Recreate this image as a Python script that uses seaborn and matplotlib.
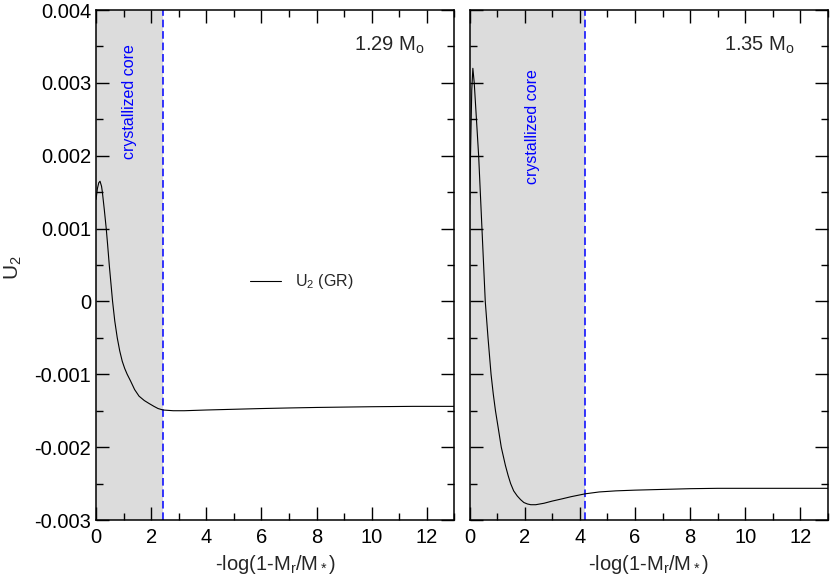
import numpy as np
import pandas as pd
import seaborn as sns
import matplotlib.pyplot as plt
from matplotlib.ticker import MultipleLocator, FuncFormatter

# left panel: 1.29 Msun
x_left = [0, 0.05, 0.1, 0.145, 0.2, 0.23, 0.3, 0.37, 0.42, 0.48, 0.54, 0.6, 0.68,
          0.77, 0.86, 0.95, 1.04, 1.13, 1.25, 1.4, 1.56, 1.75, 1.92, 2.1, 2.25,
          2.43, 2.8, 3.2, 4, 5, 6, 7, 8, 9, 10, 11.5, 13]
y_left = [0.00140, 0.00155, 0.00163, 0.00165, 0.00158, 0.00150, 0.00126, 0.00100,
          0.00078, 0.00050, 0.00025, 0.0, -0.00027, -0.00050, -0.00068, -0.00082,
          -0.00092, -0.00100, -0.00109, -0.00121, -0.00130, -0.00136, -0.00140,
          -0.00144, -0.00147, -0.00149, -0.00150, -0.00150, -0.00149, -0.00148,
          -0.00147, -0.001462, -0.001455, -0.00145, -0.001445, -0.00144, -0.00144]

# right panel: 1.35 Msun
x_right = [0, 0.04, 0.08, 0.12, 0.17, 0.25, 0.33, 0.45, 0.57, 0.67, 0.78, 0.86,
           0.94, 1.05, 1.15, 1.3, 1.4, 1.49, 1.6, 1.73, 1.85, 1.97, 2.1, 2.22,
           2.4, 2.7, 3.0, 3.35, 3.68, 4.2, 4.7, 5.3, 6, 7, 8, 9, 10, 13]
y_right = [0.00133, 0.0021, 0.0029, 0.0032, 0.0030, 0.0025, 0.0020, 0.0010, 0.0,
           -0.0005, -0.0010, -0.00127, -0.0015, -0.00176, -0.0020, -0.00225,
           -0.00239, -0.0025, -0.0026, -0.00267, -0.00272, -0.00276, -0.00278,
           -0.00279, -0.00279, -0.00277, -0.00274, -0.00271, -0.00268, -0.00264,
           -0.002615, -0.0026, -0.00259, -0.00258, -0.00257, -0.002565, -0.002565,
           -0.002565]

core_edges = [2.42, 4.2]
masses = ["1.29", "1.35"]

sns.set_theme(style="ticks")
plt.rcParams['font.family'] = ['Liberation Sans', 'DejaVu Sans']
plt.rcParams['mathtext.fontset'] = 'custom'
plt.rcParams['mathtext.rm'] = 'Liberation Sans'
plt.rcParams['mathtext.it'] = 'Liberation Sans:italic'
plt.rcParams['axes.unicode_minus'] = False

fig, axes = plt.subplots(1, 2, figsize=(8.3, 5.76), dpi=100, sharey=True)
fig.subplots_adjust(left=0.1157, right=0.9976, bottom=0.0972, top=0.9826, wspace=0.042)

panels = [(x_left, y_left), (x_right, y_right)]
text_pos = [(1.23, 0.82), (2.27, 0.772)]
mass_pos = [(0.919, 0.931), (0.908, 0.931)]

for i, ax in enumerate(axes):
    xs, ys = panels[i]
    df = pd.DataFrame({"x": xs, "y": ys})
    ax.axvspan(0, core_edges[i], color='#dcdcdc', lw=0, zorder=0)
    ax.axvline(core_edges[i], color='blue', lw=1.1, dashes=(5, 2.5), zorder=2)
    sns.lineplot(data=df, x="x", y="y", ax=ax, color='black', lw=0.8,
                 label=r"U$_\mathrm{2}$ (GR)" if i == 0 else None, zorder=3)

    ax.set_xlim(0, 13)
    ax.set_ylim(-0.003, 0.004)
    ax.xaxis.set_major_locator(MultipleLocator(2))
    ax.xaxis.set_minor_locator(MultipleLocator(1))
    ax.yaxis.set_major_locator(MultipleLocator(0.001))
    ax.yaxis.set_minor_locator(MultipleLocator(0.0005))
    ax.yaxis.set_major_formatter(FuncFormatter(lambda v, p: "%g" % round(v, 6)))
    ax.tick_params(which='both', direction='in', top=True, right=True,
                   width=1, colors='black', labelsize=14.5)
    ax.tick_params(which='major', length=9.5)
    ax.tick_params(which='minor', length=5)
    ax.tick_params(axis='x', pad=6)
    for s in ax.spines.values():
        s.set_linewidth(1.1)
        s.set_color('black')

    ax.set_xlabel(r"-log(1-M$_\mathrm{r}$/M$_*$)", fontsize=14.5)
    ax.set_ylabel("")

    tx, ty = text_pos[i]
    ax.text(tx, ty, "crystallized core", transform=ax.get_xaxis_transform(),
            rotation=90, ha='center', va='center', color='blue', fontsize=11.5)
    mx, my = mass_pos[i]
    ax.text(mx, my, masses[i] + r" M$_\mathrm{o}$", transform=ax.transAxes,
            ha='right', va='center', fontsize=14.5)

axes[1].tick_params(labelleft=False)
axes[0].set_ylabel(r"U$_\mathrm{2}$", fontsize=15)
axes[0].yaxis.set_label_coords(-0.2, 0.494)
axes[0].legend(frameon=False, loc='center left', bbox_to_anchor=(0.43, 0.467),
               borderaxespad=0, borderpad=0, handlelength=1.9, handletextpad=0.9,
               fontsize=11.5)

fig.savefig("out.png", dpi=100)
